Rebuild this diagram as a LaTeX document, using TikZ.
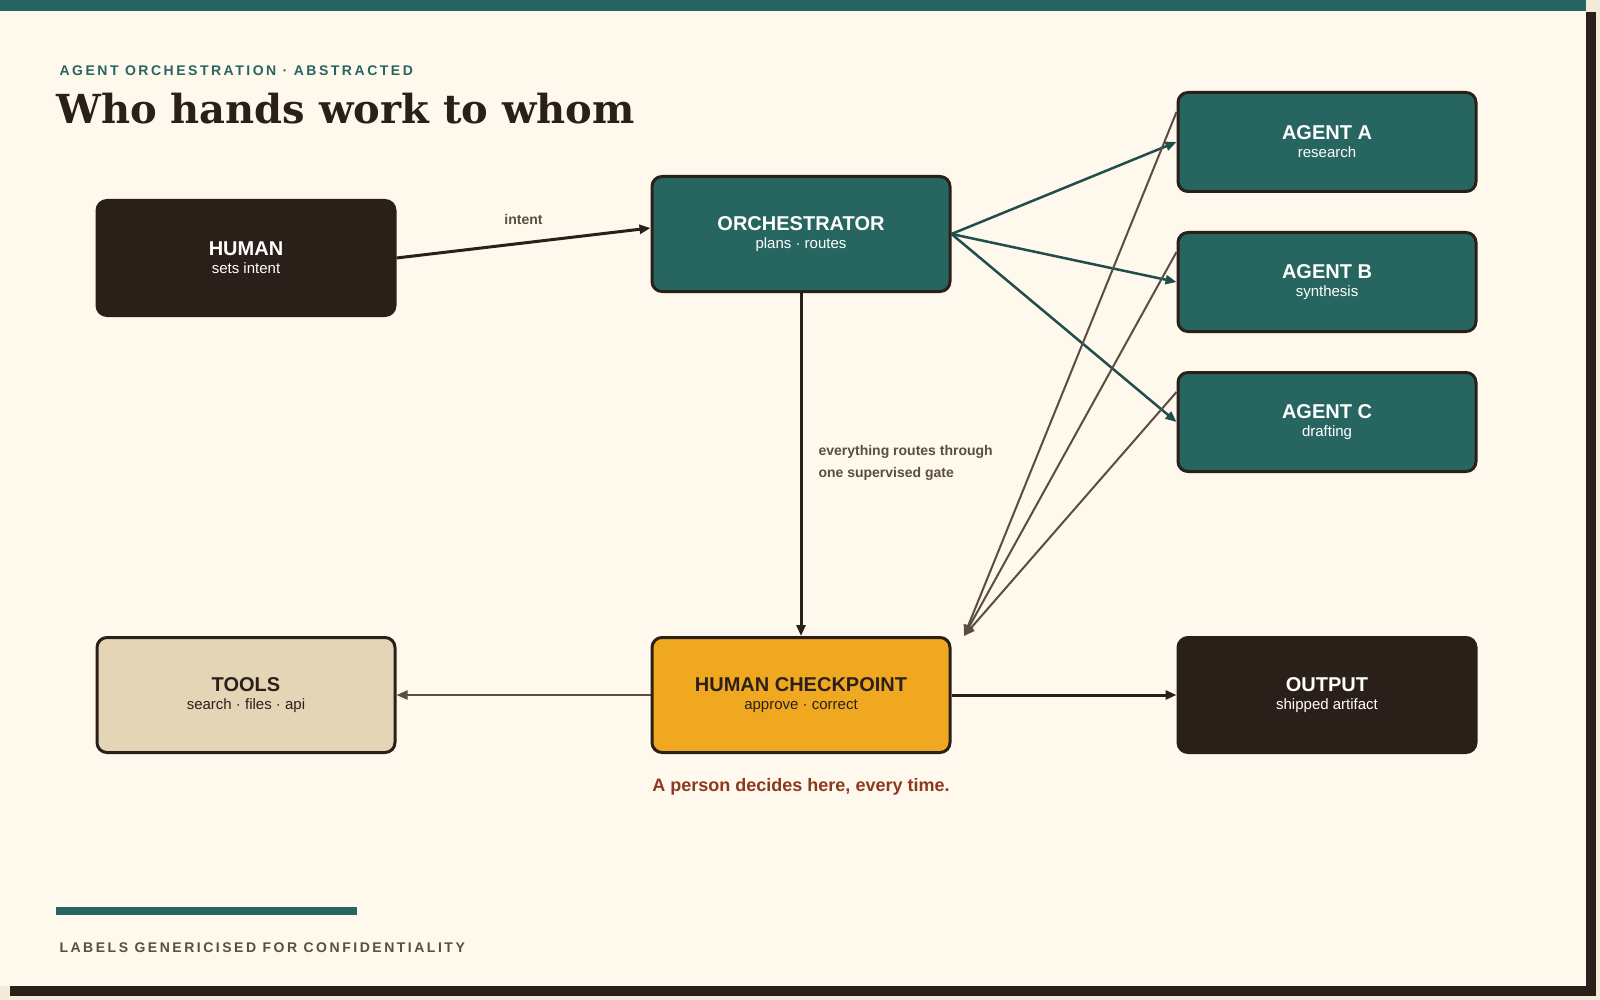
\documentclass[tikz,border=0pt]{standalone}
\usepackage{fontspec}
\setmainfont{Liberation Sans}
\newfontfamily\spaced[LetterSpace=18]{Liberation Sans}
\newfontfamily\titlefont{DejaVu Serif}
\usetikzlibrary{arrows.meta}
\definecolor{teal}{HTML}{276660}
\definecolor{tealdk}{HTML}{1F4F4B}
\definecolor{ink}{HTML}{2B2019}
\definecolor{amber}{HTML}{F0A820}
\definecolor{sand}{HTML}{E4D5B7}
\definecolor{paper}{HTML}{FFF8EC}
\definecolor{outer}{HTML}{F3EAD9}
\definecolor{mud}{HTML}{5A4D44}
\definecolor{rust}{HTML}{8B3A1E}
\newcommand\boxttl{\bfseries\fontsize{20}{24}\selectfont}
\newcommand\boxsub{\normalfont\fontsize{15}{18}\selectfont}
\begin{document}
\begin{tikzpicture}[x=1pt,y=-1pt,
 box/.style={draw=ink,line width=3pt,rounded corners=10pt,minimum width=298pt,minimum height=115pt,align=center,inner sep=0pt},
 agent/.style={box,fill=teal,text=white,minimum height=99pt},
 tarr/.style={draw=tealdk,line width=2.5pt,-{Triangle[length=11pt,width=9pt]}},
 marr/.style={draw=mud,line width=2pt,-{Triangle[length=11pt,width=9pt]}},
 darr/.style={draw=ink,line width=3pt,-{Triangle[length=11pt,width=9pt]}},
 lbl/.style={font=\bfseries\fontsize{14}{22}\selectfont,text=mud,align=left}]
\useasboundingbox (0,0) rectangle (1600,1000);
\fill[outer] (0,0) rectangle (1600,1000);
\fill[ink] (10,12) rectangle (1596,996);
\fill[paper] (0,0) rectangle (1586,986);
\fill[teal] (0,0) rectangle (1586,11);
\node[anchor=west,text=teal,font=\spaced\bfseries\fontsize{14}{16}\selectfont] (kick) at (56,71) {AGENT ORCHESTRATION · ABSTRACTED};
\node[anchor=west,text=ink,font=\titlefont\bfseries\fontsize{40}{46}\selectfont,inner sep=0pt] (title) at (56,109) {Who hands work to whom};
\node[box,fill=ink,text=white,draw=ink] (human) at (246,258) {\boxttl HUMAN\\[6pt]\boxsub sets intent};
\node[box,fill=teal,text=white] (orch) at (801,234) {\boxttl ORCHESTRATOR\\[6pt]\boxsub plans · routes};
\node[agent] (a) at (1327,142) {\boxttl AGENT A\\[6pt]\boxsub research};
\node[agent] (b) at (1327,282) {\boxttl AGENT B\\[6pt]\boxsub synthesis};
\node[agent] (c) at (1327,422) {\boxttl AGENT C\\[6pt]\boxsub drafting};
\node[box,fill=sand,text=ink] (tools) at (246,695) {\boxttl TOOLS\\[6pt]\boxsub search · files · api};
\node[box,fill=amber,text=ink] (check) at (801,695) {\boxttl HUMAN CHECKPOINT\\[6pt]\boxsub approve · correct};
\node[box,fill=ink,text=white] (out) at (1327,695) {\boxttl OUTPUT\\[6pt]\boxsub shipped artifact};
\draw[darr] (human.east) -- ([yshift=6pt]orch.west) node[pos=0.5,above=14pt,lbl,font=\bfseries\fontsize{14}{16}\selectfont] (il) {intent};
\foreach \t in {a,b,c} \draw[tarr] (orch.east) -- (\t.west);
\coordinate (gate) at (964,636);
\foreach \t in {a,b,c} \draw[marr] ([yshift=30pt]\t.west) -- (gate);
\draw[darr] (orch.south) -- (check.north);
\node[lbl,anchor=west] (gl) at (815,463) {everything routes through\\one supervised gate};
\draw[marr] (check.west) -- (tools.east);
\draw[darr] (check.east) -- (out.west);
\node[text=rust,font=\bfseries\fontsize{18}{22}\selectfont] (note) at (801,787) {A person decides here, every time.};
\fill[teal] (56,907) rectangle (357,915);
\node[anchor=west,text=mud,font=\spaced\bfseries\fontsize{14}{16}\selectfont] (foot) at (56,948) {LABELS GENERICISED FOR CONFIDENTIALITY};
\end{tikzpicture}
\end{document}
